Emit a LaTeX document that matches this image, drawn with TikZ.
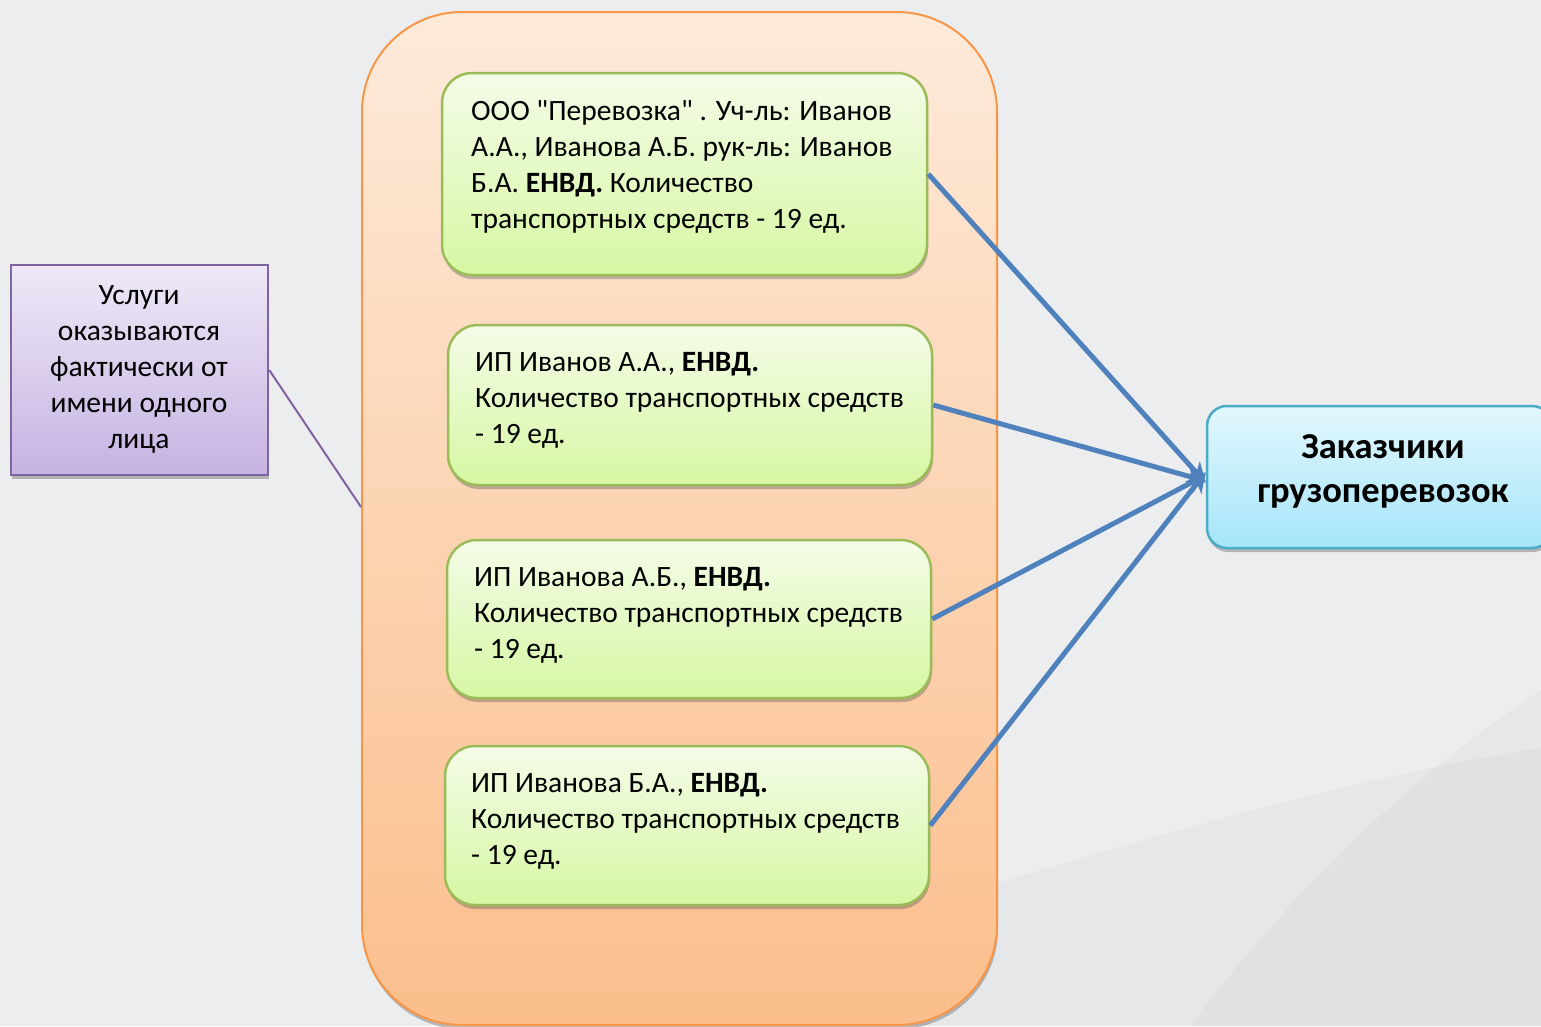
\documentclass[tikz,border=0pt]{standalone}
\usepackage{fontspec}
\setmainfont{Carlito}[Ligatures=TeXOff]
\usetikzlibrary{shadows,arrows.meta}
\definecolor{bgc}{HTML}{ECEDEF}
\definecolor{obord}{HTML}{F79646}
\definecolor{otop}{HTML}{FDEADA}
\definecolor{obot}{HTML}{FBBE8C}
\definecolor{gbord}{HTML}{9BBB59}
\definecolor{gtop}{HTML}{F4FCE8}
\definecolor{gbot}{HTML}{D6F7A3}
\definecolor{pbord}{HTML}{8064A2}
\definecolor{ptop}{HTML}{EEE9F7}
\definecolor{pbot}{HTML}{C6B3E2}
\definecolor{bbord}{HTML}{4BACC6}
\definecolor{btop}{HTML}{E2F7FD}
\definecolor{bbot}{HTML}{A6E5FA}
\definecolor{arrc}{HTML}{4F81BD}
\tikzset{
  shad/.style={drop shadow={shadow xshift=1pt, shadow yshift=-4pt, opacity=0.35, fill=black!70}},
  obox/.style={draw=obord, line width=2pt, rounded corners=100pt, top color=otop, bottom color=obot, shad, inner sep=0pt},
  gbox/.style={draw=gbord, line width=2.5pt, rounded corners=30pt, top color=gtop, bottom color=gbot, shad, inner sep=0pt},
  pbox/.style={draw=pbord, line width=2.5pt, top color=ptop, bottom color=pbot, shad, inner sep=0pt},
  bbox/.style={draw=bbord, line width=2.5pt, rounded corners=20pt, top color=btop, bottom color=bbot, shad, inner sep=0pt},
  txt/.style={font=\fontsize{29.5}{36}\selectfont, align=left, inner sep=0pt},
  ctxt/.style={font=\fontsize{29.5}{36}\selectfont, align=center, inner sep=0pt},
  btxt/.style={font=\fontsize{36.5}{44}\selectfont\bfseries, align=center, inner sep=0pt},
  arr/.style={draw=arrc, line width=5pt, -{Stealth[length=20pt, width=20pt, inset=6pt]}},
  pline/.style={draw=pbord, line width=2pt},
  deco/.style={fill=black, fill opacity=0.025}
}
\begin{document}
\begin{tikzpicture}[x=1pt, y=-1pt]
\useasboundingbox (0,0) rectangle (1541,1026);
\fill[bgc] (0,0) rectangle (1541,1026);
% background decorations
\fill[deco] (850,930) .. controls (1050,865) and (1330,780) .. (1541,748) -- (1541,1026) -- (850,1026) -- cycle;
\fill[deco] (1190,1026) .. controls (1300,880) and (1420,770) .. (1541,690) -- (1541,1026) -- cycle;
% container
\node[obox, minimum width=635pt, minimum height=1013pt] (o) at (679.5,518.5) {};
% green boxes
\node[gbox, minimum width=485pt, minimum height=202pt] (g1) at (684.5,174) {};
\node[gbox, minimum width=484pt, minimum height=160pt] (g2) at (690,405) {};
\node[gbox, minimum width=484pt, minimum height=158pt] (g3) at (689,619) {};
\node[gbox, minimum width=484pt, minimum height=159pt] (g4) at (687,825.5) {};
% purple box
\node[pbox, minimum width=257pt, minimum height=210pt] (p) at (139.5,370) {};
% blue box
\node[bbox, minimum width=345pt, minimum height=142pt] (b) at (1379.5,477) {};
% texts
\node[txt, anchor=west] (t1) at (471,167) {ООО "Перевозка" . Уч-ль: Иванов\\А.А., Иванова А.Б. рук-ль: Иванов\\Б.А. \textbf{ЕНВД.} Количество\\транспортных средств - 19 ед.};
\node[txt, anchor=west] (t2) at (475,400) {ИП Иванов А.А., \textbf{ЕНВД.}\\Количество транспортных средств\\- 19 ед.};
\node[txt, anchor=west] (t3) at (474,615) {ИП Иванова А.Б., \textbf{ЕНВД.}\\Количество транспортных средств\\- 19 ед.};
\node[txt, anchor=west] (t4) at (471,821) {ИП Иванова Б.А., \textbf{ЕНВД.}\\Количество транспортных средств\\- 19 ед.};
\node[ctxt] (tp) at (139,369) {Услуги\\оказываются\\фактически от\\имени одного\\лица};
\node[btxt] (tb) at (1383,471) {Заказчики\\грузоперевозок};
% connectors
\coordinate (pe) at (361,507);
\draw[pline] (p.east) -- (pe);
\draw[arr] (g1.east) -- ([yshift=-6pt]b.west);
\draw[arr] (g2.east) -- ([yshift=-4pt]b.west);
\draw[arr] (g3.east) -- ([yshift=2pt]b.west);
\draw[arr] (g4.east) -- ([yshift=5pt]b.west);
\end{tikzpicture}
\end{document}
